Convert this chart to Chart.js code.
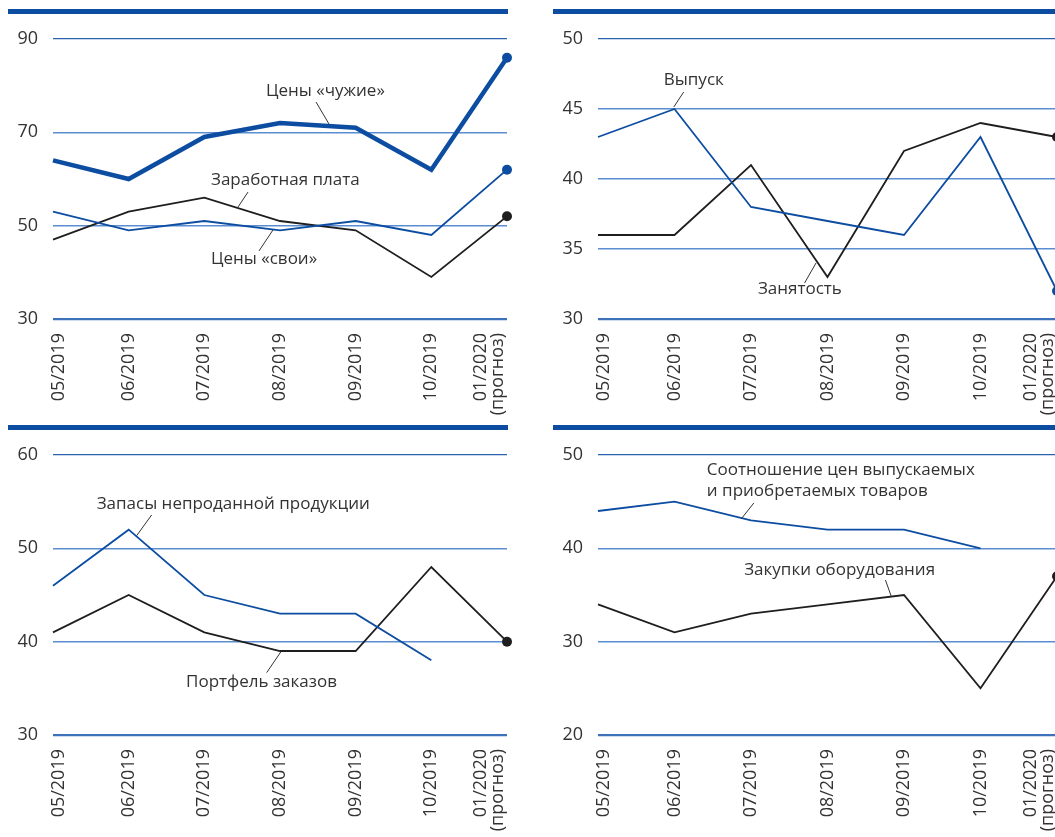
<!DOCTYPE html>
<html>
<head>
  <meta charset="utf-8" />
  <title>Индикаторы</title>
  <script src="https://cdn.jsdelivr.net/npm/chart.js@4"></script>
  <style>
    body { margin: 0; background: #ffffff; overflow: hidden; }
    #wrap { position: relative; width: 1055px; height: 837px; overflow: hidden; }
    .panel { position: absolute; width: 530px; height: 416px; }
  </style>
</head>
<body>
  <div id="wrap">
    <div class="panel" style="left:0;top:0"><canvas id="c1" width="530" height="416"></canvas></div>
    <div class="panel" style="left:545px;top:0"><canvas id="c2" width="530" height="416"></canvas></div>
    <div class="panel" style="left:0;top:416px"><canvas id="c3" width="530" height="416"></canvas></div>
    <div class="panel" style="left:545px;top:416px"><canvas id="c4" width="530" height="416"></canvas></div>
  </div>
  <script>
    // categories
    const months = ['05/2019', '06/2019', '07/2019', '08/2019', '09/2019', '10/2019', ['01/2020', '(прогноз)']];

    // top-left
    const foreignPrices = [64, 60, 69, 72, 71, 62, 86];
    const ownPrices = [53, 49, 51, 49, 51, 48, 62];
    const wages = [47, 53, 56, 51, 49, 39, 52];
    const yTicks1 = [30, 50, 70, 90];

    // top-right
    const output = [43, 45, 38, 37, 36, 43, 32];
    const employment = [36, 36, 41, 33, 42, 44, 43];
    const yTicks2 = [30, 35, 40, 45, 50];

    // bottom-left
    const stocks = [46, 52, 45, 43, 43, 38, null];
    const orders = [41, 45, 41, 39, 39, 48, 40];
    const yTicks3 = [30, 40, 50, 60];

    // bottom-right
    const priceRatio = [44, 45, 43, 42, 42, 40, null];
    const equipment = [34, 31, 33, 34, 35, 25, 37];
    const yTicks4 = [20, 30, 40, 50];

    const BLUE = '#0c4da2';
    const BLACK = '#1e1e1e';
    const TEXT = '#333333';
    const FONT = '"Open Sans", "Noto Sans", sans-serif';

    // month labels, rotated, kept inside the plot width
    const xLabels = {
      id: 'xLabels',
      afterDraw(chart) {
        const { ctx, chartArea, scales: { x } } = chart;
        const lh = 17;
        ctx.save();
        ctx.font = '18px ' + FONT;
        ctx.fillStyle = TEXT;
        ctx.textAlign = 'right';
        ctx.textBaseline = 'middle';
        months.forEach((lab, i) => {
          const lines = Array.isArray(lab) ? lab : [lab];
          const w = lines.length * lh;
          let cx = x.getPixelForValue(i);
          cx = Math.min(Math.max(cx, chartArea.left + 6), chartArea.right - w / 2 - 1);
          lines.forEach((t, j) => {
            ctx.save();
            ctx.translate(cx - w / 2 + lh / 2 + j * lh, chartArea.bottom + 14);
            ctx.rotate(-Math.PI / 2);
            ctx.fillText(t, 0, 0);
            ctx.restore();
          });
        });
        ctx.restore();
      }
    };

    // blue band on top + series captions with leader lines
    const notes = {
      id: 'notes',
      beforeDraw(chart, args, opts) {
        const ctx = chart.ctx;
        ctx.save();
        ctx.fillStyle = BLUE;
        ctx.fillRect(8, 9, opts.band, 5);
        ctx.restore();
      },
      afterDatasetsDraw(chart, args, opts) {
        const { ctx, scales: { x, y } } = chart;
        ctx.save();
        ctx.font = '17px ' + FONT;
        ctx.fillStyle = TEXT;
        ctx.textAlign = 'left';
        ctx.textBaseline = 'middle';
        (opts.items || []).forEach(n => {
          if (n.text) {
            ctx.fillText(n.text, x.getPixelForValue(n.x), y.getPixelForValue(n.y));
          } else {
            ctx.strokeStyle = '#333';
            ctx.lineWidth = 1;
            ctx.beginPath();
            ctx.moveTo(x.getPixelForValue(n.line[0]), y.getPixelForValue(n.line[1]));
            ctx.lineTo(x.getPixelForValue(n.line[2]), y.getPixelForValue(n.line[3]));
            ctx.stroke();
          }
        });
        ctx.restore();
      }
    };

    function series(data, color, width) {
      const last = data.length - 1;
      return {
        data: data,
        borderColor: color,
        backgroundColor: color,
        borderWidth: width,
        pointRadius: c => (c.dataIndex === last && data[last] !== null ? 5 : 0),
        pointHoverRadius: 0,
        pointBorderWidth: 0,
        tension: 0,
        clip: false
      };
    }

    function makeChart(id, datasets, yTicks, band, padRight, items) {
      return new Chart(document.getElementById(id), {
        type: 'line',
        data: { labels: months, datasets: datasets },
        options: {
          responsive: false,
          animation: false,
          events: [],
          layout: { padding: { top: 39, right: padRight, left: 0, bottom: 0 } },
          plugins: {
            legend: { display: false },
            tooltip: { enabled: false },
            notes: { band: band, items: items }
          },
          scales: {
            x: {
              offset: false,
              grid: { display: false },
              border: { display: false },
              ticks: { display: false },
              afterFit: s => { s.height = 97; }
            },
            y: {
              min: yTicks[0],
              max: yTicks[yTicks.length - 1],
              afterBuildTicks: s => { s.ticks = yTicks.map(v => ({ value: v })); },
              afterFit: s => { s.width = 53; },
              border: { display: false },
              grid: {
                drawTicks: false,
                color: c => c.tick.value === yTicks[0] ? '#3d72bb' : (c.tick.value === yTicks[yTicks.length - 1] ? '#2a62ad' : '#5b8dd0'),
                lineWidth: c => c.tick.value === yTicks[0] ? 2.2 : (c.tick.value === yTicks[yTicks.length - 1] ? 1.3 : 1.6)
              },
              ticks: { padding: 15, color: TEXT, font: { family: FONT, size: 18 } }
            }
          }
        },
        plugins: [notes, xLabels]
      });
    }

    makeChart('c1', [
      series(ownPrices, BLUE, 1.8),
      series(wages, BLACK, 1.8),
      series(foreignPrices, BLUE, 4.5)
    ], yTicks1, 500, 23, [
      { text: 'Цены «чужие»', x: 2.815, y: 78.85 },
      { line: [3.476, 76.5, 3.647, 71.8] },
      { text: 'Заработная плата', x: 2.088, y: 59.8 },
      { line: [2.577, 57.2, 2.445, 54.0] },
      { text: 'Цены «свои»', x: 2.088, y: 42.86 },
      { line: [2.907, 49.07, 2.722, 44.57] }
    ]);

    makeChart('c2', [
      series(output, BLUE, 1.8),
      series(employment, BLACK, 1.8)
    ], yTicks2, 522, 18, [
      { text: 'Выпуск', x: 0.86, y: 47.07 },
      { line: [1.12, 46.21, 0.99, 45.14] },
      { text: 'Занятость', x: 2.09, y: 32.14 },
      { line: [2.85, 34.0, 2.70, 32.57] }
    ]);

    makeChart('c3', [
      series(stocks, BLUE, 1.8),
      series(orders, BLACK, 1.8)
    ], yTicks3, 500, 23, [
      { text: 'Запасы непроданной продукции', x: 0.577, y: 54.76 },
      { line: [1.304, 53.58, 1.106, 51.36] },
      { text: 'Портфель заказов', x: 1.758, y: 35.71 },
      { line: [3.013, 38.93, 2.824, 36.68] }
    ]);

    makeChart('c4', [
      series(priceRatio, BLUE, 1.8),
      series(equipment, BLACK, 1.8)
    ], yTicks4, 522, 18, [
      { text: 'Соотношение цен выпускаемых', x: 1.423, y: 48.4 },
      { text: 'и приобретаемых товаров', x: 1.423, y: 46.15 },
      { line: [2.038, 44.87, 1.872, 43.15] },
      { text: 'Закупки оборудования', x: 1.911, y: 37.68 },
      { line: [3.757, 36.61, 3.835, 34.82] }
    ]);
  </script>
</body>
</html>
